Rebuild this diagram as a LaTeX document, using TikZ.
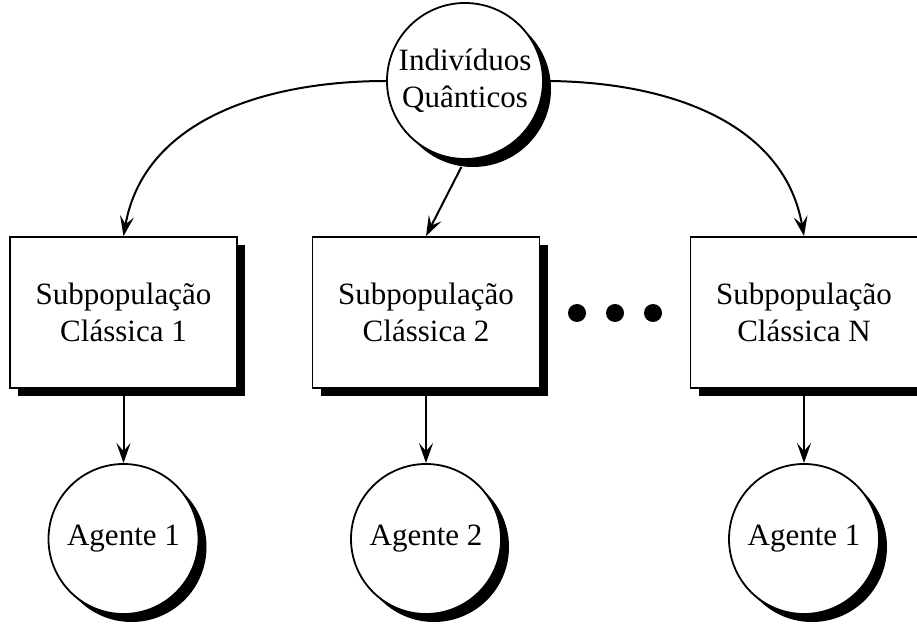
\documentclass[tikz,border=0pt]{standalone}
\usepackage{fontspec}
\setmainfont{Liberation Serif}
\usepackage{tikz}
\usetikzlibrary{shapes,arrows,positioning,calc,shadows,arrows.meta}

\tikzset{
    shade/.style={drop shadow={opacity=1, fill=black, shadow xshift=8pt, shadow yshift=-8pt}},
    popbox/.style={draw, line width=1.8pt, fill=white, shade, minimum width=227pt, minimum height=151pt, inner sep=0pt, align=center, font=\fontsize{31}{37}\selectfont},
    agent/.style={draw, circle, line width=1.8pt, fill=white, shade, minimum size=150pt, inner sep=0pt, align=center, font=\fontsize{31}{37}\selectfont},
    arr/.style={-{Stealth[length=20pt, width=14pt, inset=8pt]}, line width=2pt},
}

\begin{document}
\begin{tikzpicture}[x=1pt, y=1pt]
    \useasboundingbox (0,0) rectangle (917,624);
    \node[agent, minimum size=156pt] (quant) at (465,543) {Indivíduos\\Quânticos};
    \node[popbox] (pop1) at (123.5,311.5) {Subpopulação\\Clássica 1};
    \node[popbox] (pop2) at (426,311.5) {Subpopulação\\Clássica 2};
    \node[popbox] (popN) at (804,311.5) {Subpopulação\\Clássica N};
    \node[agent] (ag1) at (123.5,85) {Agente 1};
    \node[agent] (ag2) at (426,85) {Agente 2};
    \node[agent] (agN) at (804,85) {Agente 1};
    \fill (577,311) circle (9);
    \fill (615,311) circle (9);
    \fill (653,311) circle (9);
    \draw[arr] (quant.west) to[out=180, in=80] (pop1.north);
    \draw[arr, shorten <=8pt] (quant.south) -- (pop2.north);
    \draw[arr] (quant.east) to[out=0, in=100] (popN.north);
    \draw[arr] (pop1.south) -- (ag1.north);
    \draw[arr] (pop2.south) -- (ag2.north);
    \draw[arr] (popN.south) -- (agN.north);
\end{tikzpicture}
\end{document}
